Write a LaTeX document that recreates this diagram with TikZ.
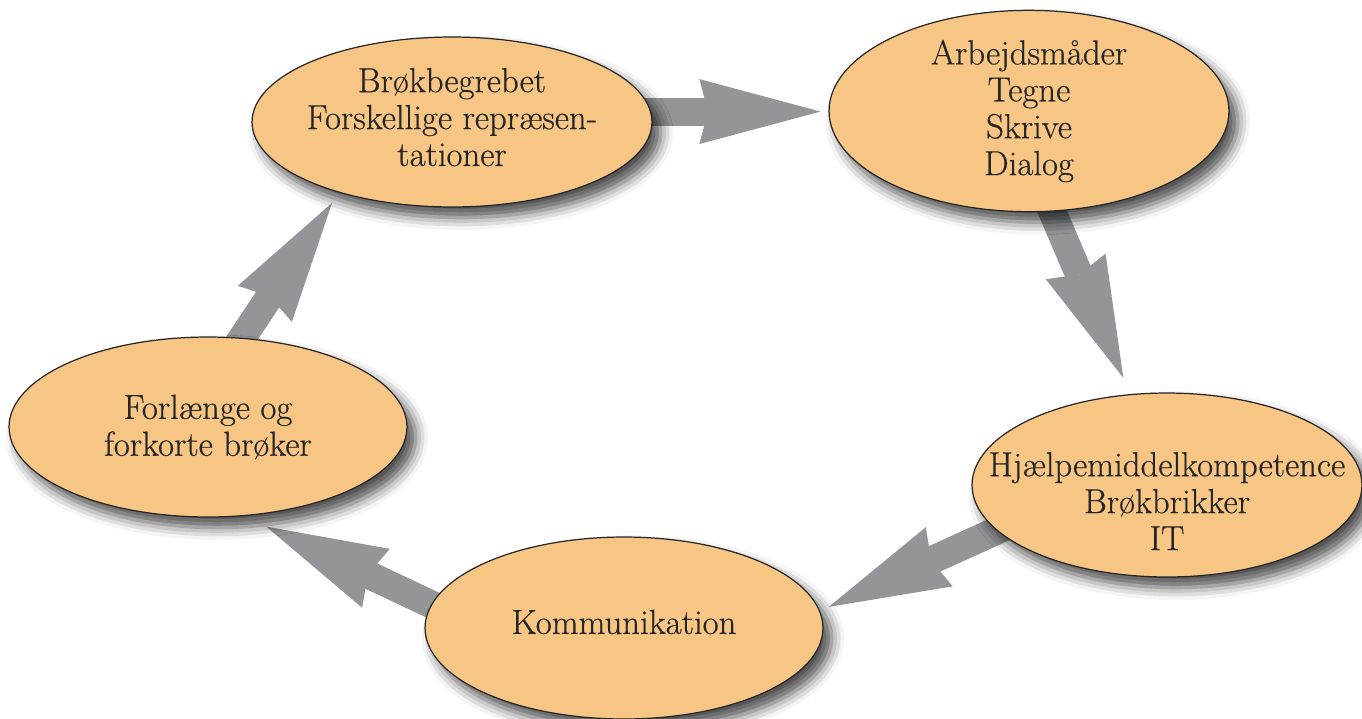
\documentclass[tikz,border=0pt]{standalone}
\usepackage{fontspec}
\setmainfont{Latin Modern Roman}[FakeBold=0.5]
\usetikzlibrary{arrows.meta,shapes.geometric,backgrounds,shadows.blur}
\definecolor{ellfill}{HTML}{F7C685}
\definecolor{arrgray}{HTML}{939598}
\begin{document}
\begin{tikzpicture}[x=0.02cm,y=-0.02cm]
    \tikzstyle{every node}=[ellipse,draw=black!85,line width=0.7pt,fill=ellfill,inner sep=0pt,align=center,
        font=\fontsize{19.8}{21}\selectfont,text=black!85,
        blur shadow={shadow xshift=5pt,shadow yshift=-6pt,shadow blur radius=7pt,shadow opacity=70}]
    \tikzstyle{flow}=[draw=arrgray,line width=15.9pt,shorten <=-12pt,
        -{Stealth[length=69pt,width=37pt,inset=5pt,line width=0pt]}]
    \useasboundingbox (0,0) rectangle (1362,718);
    \draw (452,122) node[minimum width=8cm,minimum height=3.4cm,inner xsep=-20pt] (brok) {Brøkbegrebet\\Forskellige repræsen-\\tationer\rule[-5.7pt]{0pt}{5.7pt}};
    \draw (1029,111) node[minimum width=8cm,minimum height=3.84cm] (arb) {Arbejdsmåder\\Tegne\\Skrive\\Dialog};
    \draw (1167,485) node[minimum width=7.8cm,minimum height=3.68cm,inner xsep=-40pt,inner ysep=-8pt] (hjaelp) {\rule{0pt}{32pt}Hjælpemiddelkompetence\\Brøkbrikker\\IT};
    \draw (624,628) node[minimum width=7.96cm,minimum height=3.64cm] (komm) {Kommunikation\rule[-7pt]{0pt}{7pt}};
    \draw (208,427) node[minimum width=7.96cm,minimum height=3.6cm] (forl) {Forlænge og\\forkorte brøker};
    %%%%
    \begin{scope}[on background layer]
    \draw[flow,shorten >=4.5pt] (brok.3) -- (brok.3 -| arb.west);
    \draw[flow,shorten >=10pt] (arb.-77) -- (hjaelp.112);
    \draw[flow,shorten >=5.5pt] (hjaelp.195) -- (komm.5);
    \draw[flow,shorten >=14pt] (komm.173) -- (forl.-68);
    \draw[flow,shorten >=7pt] (forl.69) -- (brok.212);
    \end{scope}
\end{tikzpicture}
\end{document}
